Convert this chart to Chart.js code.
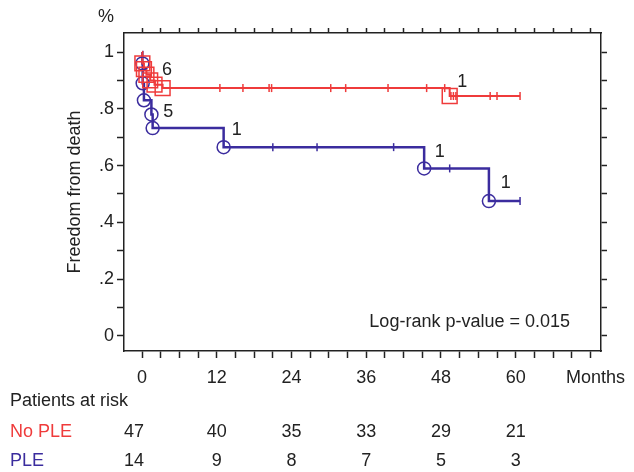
<!DOCTYPE html>
<html>
<head>
<meta charset="utf-8">
<script src="https://cdn.jsdelivr.net/npm/chart.js@4"></script>
<style>
  body { margin: 0; background: #fff; }
  canvas { display: block; }
</style>
</head>
<body>
<canvas id="km" width="634" height="472"></canvas>
<script>
// Kaplan-Meier steps (months, survival)
const noPleTime = [0, 0.05, 0.3, 0.7, 1.3, 2.0, 3.3, 49.4, 60.7];
const noPleSurv = [1.0, 0.96, 0.94, 0.92, 0.90, 0.885, 0.873, 0.845, 0.845];
const pleTime = [0, 0.05, 0.1, 0.3, 1.5, 1.7, 13.1, 45.3, 55.7, 60.7];
const pleSurv = [1.0, 0.96, 0.89, 0.83, 0.78, 0.732, 0.665, 0.59, 0.475, 0.475];

// censored observations (tick marks)
const noPleCensor = [12.5, 16.2, 20.4, 20.8, 30.3, 32.7, 39.5, 45.7, 48.6, 49.6, 50.0, 50.4, 55.9, 57.0, 60.7];
const pleCensor = [21.0, 28.1, 40.4, 49.4, 60.7];

// numbers at risk
const riskMonths = [0, 12, 24, 36, 48, 60];
const noPleAtRisk = [47, 40, 35, 33, 29, 21];
const pleAtRisk = [14, 9, 8, 7, 5, 3];

// axis ticks
const xTicks = [0, 3, 6, 9, 12, 15, 18, 21, 24, 27, 30, 33, 36, 39, 42, 45, 48, 51, 54, 57, 60, 63, 66, 69, 72];
const xTickLabels = { 0: '0', 12: '12', 24: '24', 36: '36', 48: '48', 60: '60' };
const yTicks = [0, 0.1, 0.2, 0.3, 0.4, 0.5, 0.6, 0.7, 0.8, 0.9, 1.0];
const yTickLabels = ['0', '', '.2', '', '.4', '', '.6', '', '.8', '', '1'];

// event count labels next to the curves
const noteText = ['6', '5', '1', '1', '1', '1'];
const noteMonth = [4.0, 4.2, 51.4, 15.2, 47.8, 58.4];
const noteSurv = [0.937, 0.79, 0.894, 0.725, 0.648, 0.54];

const RED = '#ef3b3b';
const BLUE = '#3b2c9e';
const INK = '#222';
const FONT = "'Liberation Sans', Arial, sans-serif";

Chart.defaults.font.family = FONT;
Chart.defaults.font.size = 18;
Chart.defaults.color = INK;

function survAt(times, surv, t) {
  let v = surv[0];
  for (let i = 0; i < times.length; i++) {
    if (times[i] <= t) v = surv[i];
  }
  return v;
}

const steps = (times, surv) => times.map((t, i) => ({ x: t, y: surv[i] }));
const events = (times, surv) => steps(times, surv).slice(1, -1);
const censor = (list, times, surv) => list.map(t => ({ x: t, y: survAt(times, surv, t) }));

const textPlugin = {
  id: 'kmText',
  afterDraw(chart) {
    const { ctx, chartArea, scales } = chart;
    const x = scales.x, y = scales.y;
    ctx.save();
    ctx.font = '18px ' + FONT;
    ctx.textBaseline = 'middle';
    ctx.fillStyle = INK;

    ctx.textAlign = 'center';
    ctx.fillText('%', chartArea.left - 18, chartArea.top - 16);

    noteText.forEach((txt, i) => {
      ctx.fillText(txt, x.getPixelForValue(noteMonth[i]), y.getPixelForValue(noteSurv[i]));
    });

    ctx.textAlign = 'right';
    ctx.fillText('Log-rank p-value = 0.015', chartArea.right - 31, chartArea.bottom - 29);

    ctx.textAlign = 'left';
    ctx.fillText('Months', chartArea.right - 35, 378);
    ctx.fillText('Patients at risk', 10, 401);
    ctx.fillStyle = RED;
    ctx.fillText('No PLE', 10, 432);
    ctx.fillStyle = BLUE;
    ctx.fillText('PLE', 10, 461);

    ctx.textAlign = 'center';
    ctx.fillStyle = INK;
    riskMonths.forEach((m, i) => {
      const px = x.getPixelForValue(m);
      ctx.fillText(String(noPleAtRisk[i]), px - (m === 0 ? 8 : 0), 432);
      ctx.fillText(String(pleAtRisk[i]), px - (m === 0 ? 8 : 0), 461);
    });
    ctx.restore();
  }
};

const frameGrid = { drawOnChartArea: false, tickLength: 7, tickColor: INK, tickWidth: 1.5 };
const frameBorder = { color: INK, width: 1.5 };

new Chart(document.getElementById('km'), {
  type: 'line',
  data: {
    datasets: [
      {
        data: censor(noPleCensor, noPleTime, noPleSurv),
        showLine: false, pointStyle: 'line', rotation: 90, pointRadius: 4,
        borderColor: RED, borderWidth: 1.5
      },
      {
        data: censor(pleCensor, pleTime, pleSurv),
        showLine: false, pointStyle: 'line', rotation: 90, pointRadius: 4,
        borderColor: BLUE, borderWidth: 1.5
      },
      {
        data: events(noPleTime, noPleSurv),
        showLine: false, pointStyle: 'rect', pointRadius: 10.5,
        borderColor: RED, backgroundColor: 'rgba(0,0,0,0)', borderWidth: 1.5
      },
      {
        data: events(pleTime, pleSurv),
        showLine: false, pointStyle: 'circle', pointRadius: 6.5,
        borderColor: BLUE, backgroundColor: 'rgba(0,0,0,0)', borderWidth: 1.5
      },
      {
        data: steps(noPleTime, noPleSurv),
        stepped: true, borderColor: RED, borderWidth: 2, pointRadius: 0, fill: false
      },
      {
        data: steps(pleTime, pleSurv),
        stepped: true, borderColor: BLUE, borderWidth: 2.5, pointRadius: 0, fill: false
      }
    ]
  },
  options: {
    responsive: false,
    animation: false,
    devicePixelRatio: 1,
    layout: { padding: { left: 64, top: 0, right: 0, bottom: 0 } },
    plugins: { legend: { display: false }, tooltip: { enabled: false } },
    scales: {
      x: {
        type: 'linear', position: 'bottom', min: -2.9, max: 73.7,
        afterBuildTicks: s => { s.ticks = xTicks.map(v => ({ value: v })); },
        afterFit: s => { s.height = 121; },
        ticks: {
          autoSkip: false, maxRotation: 0, padding: 9,
          callback: v => xTickLabels[v] || ''
        },
        grid: frameGrid, border: frameBorder
      },
      x2: {
        axis: 'x', type: 'linear', position: 'top', min: -2.9, max: 73.7,
        afterBuildTicks: s => { s.ticks = xTicks.map(v => ({ value: v })); },
        afterFit: s => { s.height = 33; },
        ticks: { display: false, autoSkip: false },
        grid: Object.assign({}, frameGrid, { tickLength: 5 }), border: frameBorder
      },
      y: {
        type: 'linear', position: 'left', min: -0.053, max: 1.067,
        afterBuildTicks: s => { s.ticks = yTicks.map(v => ({ value: v })); },
        afterFit: s => { s.width = 60; },
        ticks: {
          autoSkip: false, padding: 3,
          callback: (v, i) => yTickLabels[i]
        },
        title: { display: true, text: 'Freedom from death', padding: 0, font: { size: 18 } },
        grid: frameGrid, border: frameBorder
      },
      y2: {
        axis: 'y', type: 'linear', position: 'right', min: -0.053, max: 1.067,
        afterBuildTicks: s => { s.ticks = yTicks.map(v => ({ value: v })); },
        afterFit: s => { s.width = 33; },
        ticks: { display: false, autoSkip: false },
        grid: Object.assign({}, frameGrid, { tickLength: 6 }), border: frameBorder
      }
    }
  },
  plugins: [textPlugin]
});
</script>
</body>
</html>
